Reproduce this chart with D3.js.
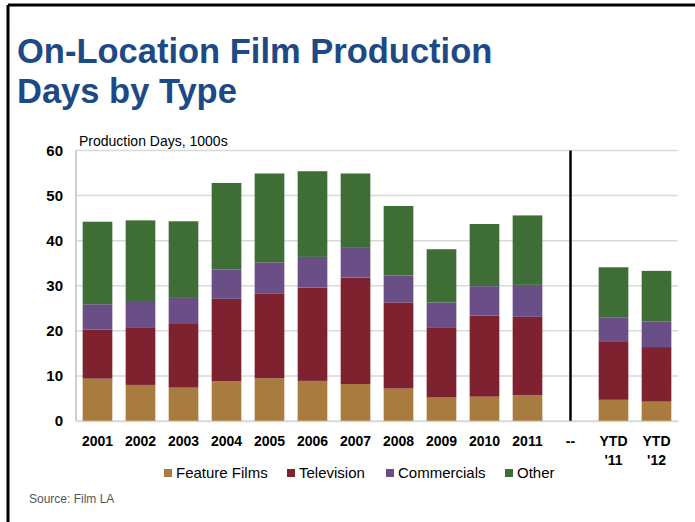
<!DOCTYPE html>
<html>
<head>
<meta charset="utf-8">
<script src="https://cdn.jsdelivr.net/npm/d3@7"></script>
<style>
  body { margin: 0; background: #fff; }
  svg { display: block; font-family: "Liberation Sans", Arial, sans-serif; }
</style>
</head>
<body>
<script>
// data (thousands of production days)
var categories = ["2001", "2002", "2003", "2004", "2005", "2006", "2007", "2008", "2009", "2010", "2011", "--", "YTD '11", "YTD '12"];
var featureFilms = [9.4, 8.0, 7.4, 8.8, 9.5, 8.9, 8.2, 7.2, 5.2, 5.4, 5.7, null, 4.7, 4.3];
var television   = [10.9, 12.8, 14.3, 18.3, 18.7, 20.7, 23.6, 19.1, 15.6, 18.0, 17.4, null, 13.0, 12.1];
var commercials  = [5.6, 5.6, 5.6, 6.5, 7.0, 6.8, 6.6, 6.0, 5.5, 6.5, 7.1, null, 5.2, 5.7];
var other        = [18.3, 18.1, 17.0, 19.2, 19.7, 19.0, 16.5, 15.4, 11.8, 13.8, 15.4, null, 11.2, 11.2];
var seriesNames = ["Feature Films", "Television", "Commercials", "Other"];
var yTicks = [0, 10, 20, 30, 40, 50, 60];

var colors = ["#A87C3F", "#7F2230", "#6A4F87", "#3F6D36"];

var w = 695, h = 522;
var svg = d3.select("body").append("svg")
  .attr("width", w)
  .attr("height", h);

// frame lines (top and left only)
svg.append("line").attr("x1", 8).attr("x2", w).attr("y1", 5).attr("y2", 5)
  .attr("stroke", "#000").attr("stroke-width", 3);
svg.append("line").attr("x1", 8).attr("x2", 8).attr("y1", 5).attr("y2", h)
  .attr("stroke", "#000").attr("stroke-width", 3);

// title
var title = svg.append("text")
  .attr("fill", "#1D4A86")
  .style("font-size", "34.5px")
  .style("font-weight", "bold");
title.append("tspan").attr("x", 17).attr("y", 63).text("On-Location Film Production");
title.append("tspan").attr("x", 17).attr("y", 103).text("Days by Type");

var plotLeft = 76, plotRight = 678, plotTop = 150.5, plotBottom = 421;

var xScale = d3.scaleBand()
  .domain(categories)
  .range([plotLeft, plotRight])
  .paddingInner(0.31)
  .paddingOuter(0.155);

var yScale = d3.scaleLinear()
  .domain([0, 60])
  .range([plotBottom, plotTop]);

// gridlines
svg.append("g")
  .selectAll("line")
  .data(yTicks)
  .enter()
  .append("line")
  .attr("x1", plotLeft)
  .attr("x2", plotRight)
  .attr("y1", function(d) { return yScale(d); })
  .attr("y2", function(d) { return yScale(d); })
  .attr("stroke", "#D9D9D9")
  .attr("stroke-width", 1.5);

// y axis line
svg.append("line")
  .attr("x1", plotLeft).attr("x2", plotLeft)
  .attr("y1", plotTop).attr("y2", plotBottom)
  .attr("stroke", "#BFBFBF").attr("stroke-width", 1.5);

// stack
var rows = categories.map(function(c, i) {
  return {
    cat: c,
    "Feature Films": featureFilms[i] || 0,
    "Television": television[i] || 0,
    "Commercials": commercials[i] || 0,
    "Other": other[i] || 0,
    empty: featureFilms[i] == null
  };
});
var stacked = d3.stack().keys(seriesNames)(rows);

svg.append("g")
  .selectAll("g")
  .data(stacked)
  .enter()
  .append("g")
  .attr("fill", function(d, i) { return colors[i]; })
  .selectAll("rect")
  .data(function(d) { return d.filter(function(s) { return !s.data.empty; }); })
  .enter()
  .append("rect")
  .attr("x", function(d) { return xScale(d.data.cat); })
  .attr("width", xScale.bandwidth())
  .attr("y", function(d) { return yScale(d[1]); })
  .attr("height", function(d) { return yScale(d[0]) - yScale(d[1]); });

// separator line at "--"
var sepX = xScale("--") + xScale.bandwidth() / 2;
svg.append("line")
  .attr("x1", sepX).attr("x2", sepX)
  .attr("y1", plotTop).attr("y2", plotBottom)
  .attr("stroke", "#000").attr("stroke-width", 2.5);

// y axis labels
var yAxis = d3.axisLeft(yScale).tickValues(yTicks).tickSize(0).tickPadding(13);
var yg = svg.append("g")
  .attr("transform", "translate(" + plotLeft + ",0)")
  .call(yAxis);
yg.select(".domain").remove();
yg.selectAll("text")
  .style("font-size", "15px")
  .style("font-weight", "bold")
  .style("font-family", "'Liberation Sans', Arial, sans-serif")
  .attr("fill", "#000");

// x axis labels
var xAxis = d3.axisBottom(xScale).tickSize(0).tickPadding(0).tickFormat("");
var xg = svg.append("g")
  .attr("transform", "translate(0," + plotBottom + ")")
  .call(xAxis);
xg.select(".domain")
  .attr("stroke", "#D9D9D9").attr("stroke-width", 1.5);
xg.selectAll(".tick").each(function(d) {
  var t = d3.select(this).append("text")
    .attr("fill", "#000")
    .attr("text-anchor", "middle")
    .style("font-size", "14px")
    .style("font-weight", "bold")
    .style("font-family", "'Liberation Sans', Arial, sans-serif");
  d.split(" ").forEach(function(part, j) {
    t.append("tspan").attr("x", 0).attr("y", 25 + j * 19).text(part);
  });
});

// y axis title
svg.append("text")
  .attr("x", 79)
  .attr("y", 146)
  .style("font-size", "14px")
  .attr("fill", "#000")
  .text("Production Days, 1000s");

// legend
var legendX = [164, 287, 386, 505];
var legend = svg.append("g")
  .selectAll("g")
  .data(seriesNames)
  .enter()
  .append("g")
  .attr("transform", function(d, i) { return "translate(" + legendX[i] + ",469)"; });
legend.append("rect")
  .attr("width", 8).attr("height", 8)
  .attr("fill", function(d, i) { return colors[i]; });
legend.append("text")
  .attr("x", 12)
  .attr("y", 9)
  .style("font-size", "15px")
  .attr("fill", "#000")
  .text(function(d) { return d; });

// source
svg.append("text")
  .attr("x", 29)
  .attr("y", 503)
  .style("font-size", "12px")
  .attr("fill", "#555")
  .text("Source: Film LA");
</script>
</body>
</html>
